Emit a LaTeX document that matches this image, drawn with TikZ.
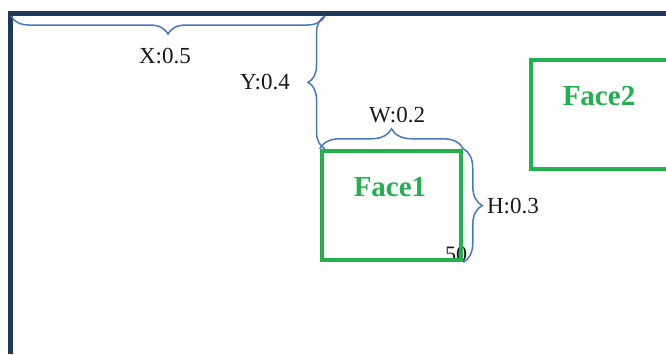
\documentclass[tikz,border=0pt]{standalone}
\usepackage{fontspec}
\setmainfont{Liberation Serif}
\usetikzlibrary{decorations.pathreplacing}
\definecolor{framec}{RGB}{31,58,88}
\definecolor{facec}{RGB}{34,177,76}
\definecolor{bracec}{RGB}{70,120,190}

\begin{document}
\begin{tikzpicture}[x=1pt,y=-1pt,
  brc/.style={draw=bracec, line width=1.5pt, decorate, decoration={brace, amplitude=#1}},
  facebox/.style={draw=facec, line width=4.5pt, minimum width=139pt, minimum height=109pt, inner sep=0pt},
  facetext/.style={text=facec, font=\fontsize{29}{33}\selectfont\bfseries, anchor=base},
  dimtext/.style={font=\fontsize{23}{27}\selectfont, anchor=base, text=black!90}]
  \useasboundingbox (0,0) rectangle (666,354);

  % 枠
  \coordinate (o) at (11,16);
  \coordinate (xr) at (325,16);
  \draw[framec, line width=5.5pt] (10.5,354) -- (10.5,13.5) -- (666,13.5);

  % 数値
  \node[dimtext, font=\fontsize{22}{26}\selectfont] (num) at (456,261) {50};

  % 顔の枠
  \node[facebox] (face1) at (391.5,205.5) {};
  \node[facebox] (face2) at (600.5,114.5) {};
  \node[facetext] (f1) at (390,196) {Face1};
  \node[facetext] (f2) at (599,105) {Face2};

  % 括弧
  \draw[brc=18] (xr) -- (o);
  \draw[brc=17] (xr |- face1.north) -- (xr);
  \draw[brc=20] (face1.north west) -- (face1.north east);
  \draw[brc=19] (face1.north east) -- (face1.south east);

  % 寸法
  \node[dimtext] (xl) at (165,63) {X:0.5};
  \node[dimtext] (yl) at (265,89) {Y:0.4};
  \node[dimtext] (wl) at (397,122) {W:0.2};
  \node[dimtext] (hl) at (513,213) {H:0.3};
\end{tikzpicture}
\end{document}
